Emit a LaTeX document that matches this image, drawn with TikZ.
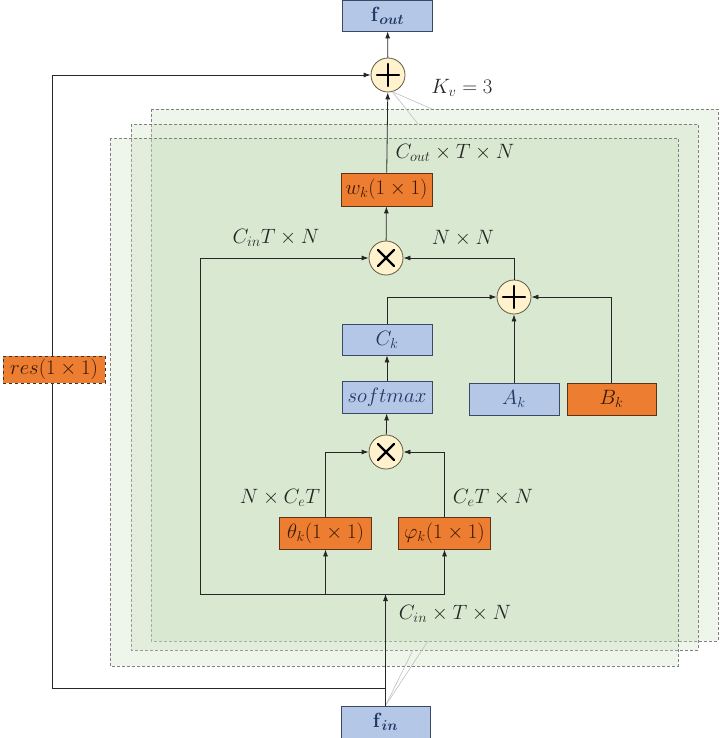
\documentclass[tikz,border=0pt]{standalone}
\usepackage{amsmath}
\usetikzlibrary{arrows.meta}
\definecolor{boxblue}{HTML}{B4C7E7}
\definecolor{boxblueline}{HTML}{3A4A66}
\definecolor{txtblue}{HTML}{1F3864}
\definecolor{boxorange}{HTML}{ED7D31}
\definecolor{boxorangeline}{HTML}{5A3318}
\definecolor{txtorange}{HTML}{3A1A05}
\definecolor{opfill}{HTML}{FFF2CC}
\definecolor{opline}{HTML}{5E5A45}
\definecolor{panelgreen}{RGB}{198,222,185}
\definecolor{linegray}{HTML}{262626}
\tikzset{
  x=1pt, y=-1pt,
  every node/.style={font=\fontsize{20.5}{24}\selectfont},
  bluebox/.style={draw=boxblueline, fill=boxblue, text=txtblue, line width=0.8pt, inner sep=0pt},
  orangebox/.style={draw=boxorangeline, fill=boxorange, text=txtorange, line width=0.8pt, inner sep=0pt},
  opcircle/.style={circle, draw=opline, fill=opfill, line width=0.8pt, minimum size=34pt, inner sep=0pt},
  opmark/.style={line width=2.2pt, black, line cap=round},
  conn/.style={draw=linegray, line width=0.8pt},
  arr/.style={conn, -{Latex[length=7pt,width=5pt]}},
  panel/.style={fill=panelgreen, fill opacity=0.3, draw=gray, dash pattern=on 3pt off 2pt, line width=0.6pt},
  faint/.style={draw=gray!50, line width=0.6pt},
  lbl/.style={text=black!85, inner sep=1pt}
}
\begin{document}
\begin{tikzpicture}
\useasboundingbox (0,0) rectangle (720,738);
% panels
\draw[panel] (151,109) rectangle (718,641);
\draw[panel] (131,124) rectangle (698,650);
\draw[panel] (110,138) rectangle (678,666);

% nodes
\node[bluebox, minimum width=90pt, minimum height=31pt] (fout) at (387.5,15.5) {\textbf{f}$_{\boldsymbol{out}}$};
\node[opcircle] (plusA) at (388,75) {};
\node[orangebox, minimum width=91pt, minimum height=33pt] (wk) at (386.5,189.5) {$w_k(1\times 1)$};
\node[opcircle] (mulA) at (386,258) {};
\node[opcircle] (plusB) at (514,297) {};
\node[bluebox, minimum width=90pt, minimum height=31pt] (Ck) at (387,339.5) {$C_k$};
\node[bluebox, minimum width=90pt, minimum height=32pt] (soft) at (387,397) {$softmax$};
\node[bluebox, minimum width=90pt, minimum height=32pt] (Ak) at (514,399) {$A_k$};
\node[orangebox, minimum width=89pt, minimum height=32pt] (Bk) at (611.5,399) {$B_k$};
\node[opcircle] (mulB) at (386,452) {};
\node[orangebox, minimum width=92pt, minimum height=32pt] (theta) at (325.5,533) {$\theta_k(1\times 1)$};
\node[orangebox, minimum width=92pt, minimum height=32pt] (phi) at (444.5,533) {$\varphi_k(1\times 1)$};
\node[bluebox, minimum width=89pt, minimum height=32pt] (fin) at (385.5,722) {\textbf{f}$_{\boldsymbol{in}}$};

% operator marks
\draw[opmark] (plusA) +(-11,0) -- +(11,0) (plusA) +(0,-11) -- +(0,11);
\draw[opmark] (plusB) +(-11,0) -- +(11,0) (plusB) +(0,-11) -- +(0,11);
\draw[opmark] (mulA) +(-8,-8) -- +(8,8) (mulA) +(-8,8) -- +(8,-8);
\draw[opmark] (mulB) +(-8,-8) -- +(8,8) (mulB) +(-8,8) -- +(8,-8);

% helper coordinates
\coordinate (bl) at (200,594);
\coordinate (rb) at (52,688);
\coordinate (pt1) at (432,109);
\coordinate (pt2) at (418,124);
\coordinate (pb1) at (413,650);
\coordinate (pb2) at (428,641);

% faint perspective lines
\draw[faint] (plusA.-75) -- (pt1);
\draw[faint] (plusA.-75) -- (pt2);
\draw[faint] (fin.north) -- (pb1);
\draw[faint] (fin.north) -- (pb2);

% connectors
\draw[arr] (fin.north) -- (fin.north |- bl);
\draw[conn] (bl) -- (phi.south |- bl);
\draw[arr] (theta.south |- bl) -- (theta.south);
\draw[arr] (phi.south |- bl) -- (phi.south);
\draw[arr] (bl) |- (mulA.west);
\draw[arr] (theta.north) |- (mulB.west);
\draw[arr] (phi.north) |- (mulB.east);
\draw[arr] (mulB) -- (soft);
\draw[arr] (soft) -- (Ck);
\draw[arr] (Ck.north) |- (plusB.west);
\draw[arr] (Ak) -- (plusB);
\draw[arr] (Bk.north) |- (plusB.east);
\draw[arr] (plusB.north) |- (mulA.east);
\draw[arr] (mulA) -- (wk);
\draw[arr] (wk) -- (plusA);
\draw[arr] (plusA) -- (fout);
\draw[arr] (fin.north |- rb) -- (rb) |- (plusA.west);

% residual box on top of line
\node[orangebox, draw=black!80, dashed, minimum width=102pt, minimum height=27pt] (res) at (54,369.5) {$res(1\times 1)$};

% labels
\node[lbl] (lKv) at (462,88) {$K_v = 3$};
\node[lbl] (lCout) at (455,153) {$C_{out} \times T \times N$};
\node[lbl] (lCinT) at (276,238) {$C_{in}T \times N$};
\node[lbl] (lNN) at (463,238) {$N \times N$};
\node[lbl] (lNCe) at (280,498) {$N \times C_eT$};
\node[lbl] (lCeN) at (493,498) {$C_eT \times N$};
\node[lbl] (lCin) at (455,614) {$C_{in} \times T \times N$};
\end{tikzpicture}
\end{document}
